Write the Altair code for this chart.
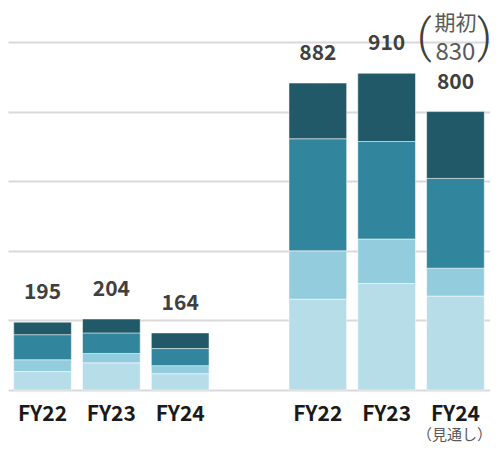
import altair as alt
import pandas as pd

# ---- data ----
slots = ["a22", "a23", "a24", "gap", "b22", "b23", "b24"]
keys = ["a22", "a23", "a24", "b22", "b23", "b24"]
seg1 = [53, 78, 47, 261, 306, 270]   # bottom (lightest)
seg2 = [34, 27, 23, 139, 128, 80]
seg3 = [72, 59, 49, 322, 280, 258]
seg4 = [36, 40, 45, 160, 196, 192]   # top (darkest)
totals = [195, 204, 164, 882, 910, 800]
seg_names = ["s1", "s2", "s3", "s4"]
seg_colors = ["#B7DEE8", "#93CDDD", "#31859C", "#215968"]
ann_top = "期初"
ann_val = "830"
ann_sub = "（見通し）"

FONT = "Noto Sans CJK JP"

rows = []
for i, k in enumerate(keys):
    for j, (name, arr) in enumerate(zip(seg_names, [seg1, seg2, seg3, seg4])):
        rows.append({"slot": k, "seg": name, "order": j, "value": arr[i]})
bars_df = pd.DataFrame(rows)
tot_df = pd.DataFrame({"slot": keys, "total": totals})
ann_df = pd.DataFrame({"slot": ["b24"]})

x_enc = alt.X(
    "slot:N",
    scale=alt.Scale(domain=slots, paddingInner=0.162, paddingOuter=0.083),
    axis=alt.Axis(
        title=None,
        labelExpr="datum.value == 'gap' ? '' : 'FY' + substring(datum.value, 1)",
        ticks=False,
        domain=False,
        labelAngle=0,
        labelFont=FONT,
        labelFontSize=21,
        labelFontWeight="bold",
        labelColor="#1a1a1a",
        labelPadding=13,
    ),
)
y_scale = alt.Scale(domain=[0, 1000], nice=False)

bars = alt.Chart(bars_df).mark_bar(stroke="white", strokeWidth=0.5).encode(
    x=x_enc,
    y=alt.Y(
        "value:Q",
        stack="zero",
        scale=y_scale,
        axis=alt.Axis(
            values=[0, 200, 400, 600, 800, 1000],
            labels=False,
            ticks=False,
            domain=False,
            title=None,
            grid=True,
            gridColor="#d9d9d9",
            gridWidth=2,
        ),
    ),
    color=alt.Color("seg:N", scale=alt.Scale(domain=seg_names, range=seg_colors), legend=None),
    order=alt.Order("order:Q"),
)

labels = alt.Chart(tot_df).mark_text(
    font=FONT, fontSize=21, fontWeight="bold", color="#404040", baseline="middle", dy=-29
).encode(x=alt.X("slot:N"), y=alt.Y("total:Q"), text=alt.Text("total:Q"))

a1 = alt.Chart(ann_df).mark_text(
    font=FONT, fontSize=21, color="#595959", baseline="middle", dy=-18, dx=0
).encode(x="slot:N", y=alt.datum(1000), text=alt.value(ann_top))
a2 = alt.Chart(ann_df).mark_text(
    font=FONT, fontSize=24, color="#595959", baseline="middle", dy=11, dx=0
).encode(x="slot:N", y=alt.datum(1000), text=alt.value(ann_val))
p1 = alt.Chart(ann_df).mark_text(
    font="Roboto", fontWeight=300, fontSize=46, color="#404040", baseline="middle", dy=-4, dx=-31
).encode(x="slot:N", y=alt.datum(1000), text=alt.value("("))
p2 = alt.Chart(ann_df).mark_text(
    font="Roboto", fontWeight=300, fontSize=46, color="#404040", baseline="middle", dy=-4, dx=29
).encode(x="slot:N", y=alt.datum(1000), text=alt.value(")"))
sub = alt.Chart(ann_df).mark_text(
    font=FONT, fontSize=15, color="#595959", baseline="middle", dy=45, dx=-1
).encode(x="slot:N", y=alt.datum(0), text=alt.value(ann_sub))

chart = (
    alt.layer(bars, labels, a1, a2, p1, p2, sub)
    .properties(
        width=482,
        height=348,
        autosize=alt.AutoSizeParams(type="none"),
        padding={"left": 0, "top": 34, "right": 0, "bottom": 54},
    )
    .configure_view(stroke=None)
)

chart.save("out.html", embed_options={"renderer": "svg", "actions": False})
